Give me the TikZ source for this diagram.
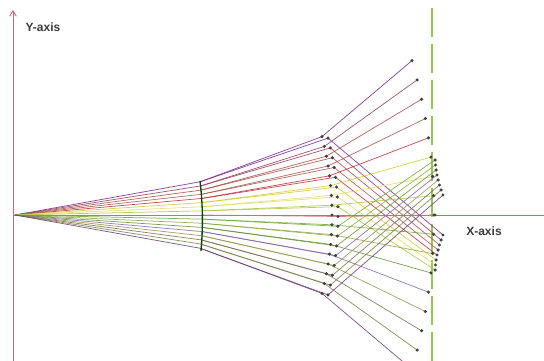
\documentclass[tikz,border=0pt]{standalone}
\usepackage{fontspec}
\setmainfont{Liberation Sans}
\usetikzlibrary{arrows.meta}
\definecolor{axisred}{RGB}{195,110,110}
\definecolor{lensgreen}{RGB}{150,200,80}
\definecolor{lbl}{RGB}{60,60,60}
\definecolor{r1}{RGB}{120,40,150}
\definecolor{r2}{RGB}{150,60,90}
\definecolor{r3}{RGB}{170,80,70}
\definecolor{r4}{RGB}{165,90,80}
\definecolor{r5}{RGB}{190,50,55}
\definecolor{r6}{RGB}{215,205,40}
\definecolor{r7}{RGB}{230,220,90}
\definecolor{r8}{RGB}{170,200,60}
\definecolor{r9}{RGB}{205,110,120}
\definecolor{r10}{RGB}{110,170,50}
\definecolor{r11}{RGB}{140,170,60}
\definecolor{r12}{RGB}{100,150,50}
\definecolor{r13}{RGB}{140,100,170}
\definecolor{r14}{RGB}{150,150,80}
\definecolor{r15}{RGB}{130,110,80}
\definecolor{r16}{RGB}{120,130,70}
\definecolor{r17}{RGB}{110,60,120}
\tikzset{
  ray/.style={line width=0.55pt, opacity=0.85},
  dot/.style={circle, fill=black!75, inner sep=0pt, minimum size=2.6pt},
  axisline/.style={axisred, line width=0.7pt},
  axlabel/.style={text=lbl, font=\fontsize{9}{10}\selectfont\bfseries, inner sep=0pt}
}
\begin{document}
\begin{tikzpicture}[x=0.75pt,y=-0.75pt]
\useasboundingbox (0,0) rectangle (544,361);
\fill[white] (0,0) rectangle (544,361);
% axes
\coordinate (O) at (15,215);
\coordinate (ybot) at (13,361);
\coordinate (ytop) at (13,10);
\coordinate (xl) at (13,215);
\coordinate (xr) at (544,215);
\draw[axisline, -{Straight Barb[length=4pt,width=5pt]}] (ybot) -- (ytop);
\draw[axisline] (xl) -- (xr);
\node[axlabel] (ylab) at (43,27) {Y-axis};
\node[axlabel] (xlab) at (484,231) {X-axis};
% dashed focal line
\coordinate (ftop) at (432,8);
\coordinate (fbot) at (432,361);
\draw[lensgreen, line width=1.2pt, dash pattern=on 22pt off 5pt] (ftop) -- (fbot);
% rays
\foreach \i [count=\k] in {-8,...,8} {
  \pgfmathsetmacro\w{1-(\i/8)^2}
  \pgfmathsetmacro\sg{\i<0 ? 1 : (\i>0 ? -1 : 0)}
  \coordinate (A\k) at ({200+3*\w},{215+4.15*\i});
  \coordinate (B\k) at ({322+10*\w},{215+9.8*\i});
  \coordinate (E\k) at ({328+10*\w},{216.5+9.8*\i});
  \coordinate (C\k) at ({412+22*\w},{215+19.3*\i});
  \coordinate (D\k) at ({443-8*\w},{215+\sg*(20+5*(8-abs(\i)))});
  \draw[ray, color=r\k] (O) -- (A\k) -- (B\k) -- (C\k);
  \draw[ray, color=r\k] (A\k) -- (E\k) -- (D\k);
}
% first lens
\coordinate (L1t) at (200,181);
\coordinate (L1b) at (201,251);
\draw[black!60!green!70!black, line width=1pt] (L1t) .. controls (203,205) and (203,228) .. (L1b);
% dots
\foreach \k in {1,...,17} {
  \node[dot] (b\k) at (B\k) {};
  \node[dot] (e\k) at (E\k) {};
  \node[dot] (c\k) at (C\k) {};
  \node[dot] (d\k) at (D\k) {};
}
\end{tikzpicture}
\end{document}
